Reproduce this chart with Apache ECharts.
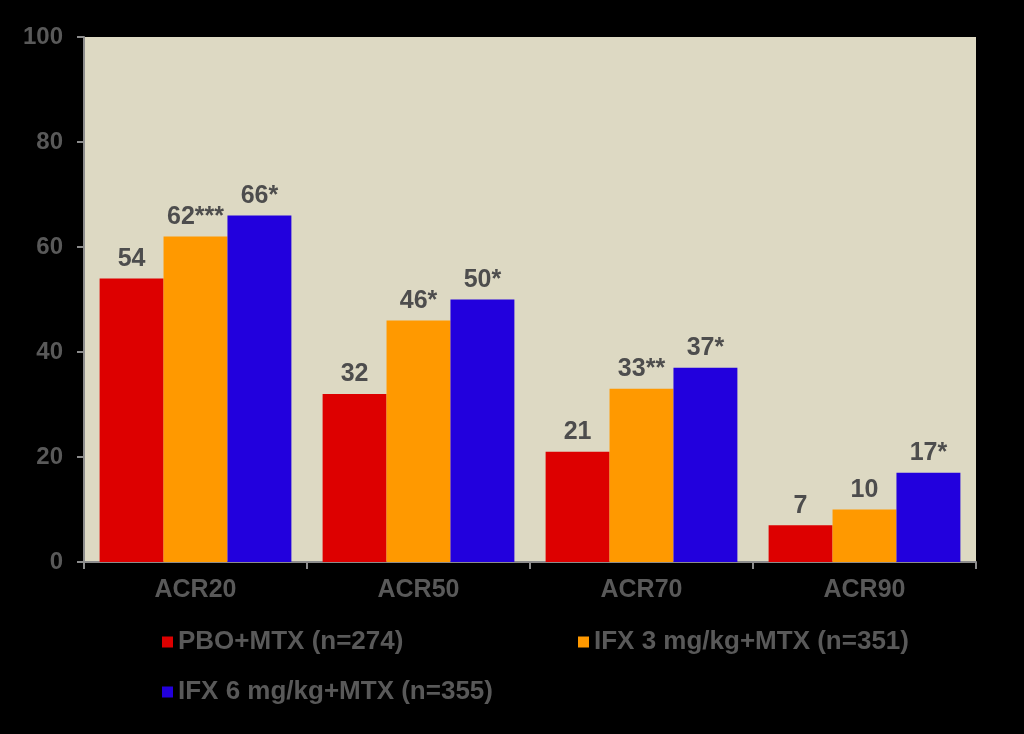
<!DOCTYPE html>
<html>
<head>
<meta charset="utf-8">
<script src="https://cdn.jsdelivr.net/npm/echarts@6/dist/echarts.min.js"></script>
<style>
  html, body { margin: 0; padding: 0; background: #000; }
  #chart { width: 1024px; height: 734px; }
</style>
</head>
<body>
<div id="chart"></div>
<script>
// 数据
const categories = ['ACR20', 'ACR50', 'ACR70', 'ACR90'];
const seriesNames = ['PBO+MTX (n=274)', 'IFX 3 mg/kg+MTX (n=351)', 'IFX 6 mg/kg+MTX (n=355)'];
const pboValues = [54, 32, 21, 7];
const ifx3Values = [62, 46, 33, 10];
const ifx6Values = [66, 50, 37, 17];
const pboLabels = ['54', '32', '21', '7'];
const ifx3Labels = ['62***', '46*', '33**', '10'];
const ifx6Labels = ['66*', '50*', '37*', '17*'];
const yTicks = [0, 20, 40, 60, 80, 100];

const colors = ['#dd0000', '#ff9900', '#2200dd'];
const textGrey = '#595959';
const fontFamily = '"Liberation Sans", Arial, sans-serif';

const chart = echarts.init(document.getElementById('chart'));

function makeSeries(name, values, labels, color) {
  return {
    name: name,
    type: 'bar',
    data: values,
    barGap: '0%',
    barCategoryGap: '14%',
    itemStyle: { color: color },
    label: {
      show: true,
      position: 'top',
      distance: 7,
      color: '#4d4d4d',
      fontSize: 25,
      fontWeight: 'bold',
      fontFamily: fontFamily,
      formatter: p => labels[p.dataIndex]
    }
  };
}

// 图例分三块放置
function makeLegend(name, left, top) {
  return {
    data: [name],
    left: left,
    top: top,
    itemWidth: 11,
    itemHeight: 11,
    itemGap: 6,
    icon: 'rect',
    selectedMode: false,
    textStyle: {
      color: textGrey,
      fontSize: 26,
      fontWeight: 'bold',
      fontFamily: fontFamily,
      padding: [0, 0, 0, 0]
    }
  };
}

const option = {
  backgroundColor: '#000',
  animation: false,
  grid: {
    left: 84,
    right: 48,
    top: 37,
    bottom: 172,
    show: true,
    backgroundColor: '#ddd9c3',
    borderWidth: 0
  },
  legend: [
    makeLegend(seriesNames[0], 157, 624),
    makeLegend(seriesNames[1], 573, 624),
    makeLegend(seriesNames[2], 157, 674)
  ],
  xAxis: {
    type: 'category',
    data: categories,
    axisLine: { show: true, lineStyle: { color: '#8c8c8c', width: 2 } },
    axisTick: { show: true, length: 7, lineStyle: { color: '#8c8c8c', width: 2 } },
    axisLabel: {
      color: textGrey,
      fontSize: 25,
      fontWeight: 'bold',
      fontFamily: fontFamily,
      margin: 16
    }
  },
  yAxis: {
    type: 'value',
    min: yTicks[0],
    max: yTicks[yTicks.length - 1],
    interval: 20,
    splitLine: { show: false },
    axisLine: { show: true, lineStyle: { color: '#8c8c8c', width: 2 } },
    axisTick: { show: true, length: 7, lineStyle: { color: '#8c8c8c', width: 2 } },
    axisLabel: {
      color: textGrey,
      fontSize: 24,
      fontWeight: 'bold',
      fontFamily: fontFamily,
      margin: 21
    }
  },
  series: [
    makeSeries(seriesNames[0], pboValues, pboLabels, colors[0]),
    makeSeries(seriesNames[1], ifx3Values, ifx3Labels, colors[1]),
    makeSeries(seriesNames[2], ifx6Values, ifx6Labels, colors[2])
  ]
};

chart.setOption(option);
</script>
</body>
</html>
